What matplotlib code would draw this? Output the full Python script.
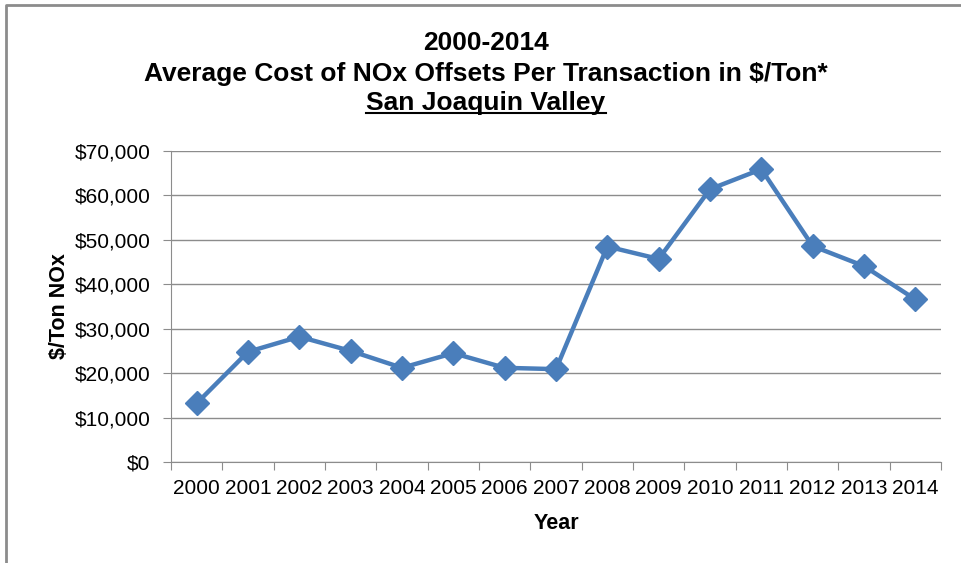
import matplotlib
matplotlib.use("Agg")
import matplotlib.pyplot as plt
from matplotlib.lines import Line2D
from matplotlib.ticker import FuncFormatter, MultipleLocator

plt.rcParams["font.family"] = ["Liberation Sans", "DejaVu Sans"]

years = ["2000", "2001", "2002", "2003", "2004", "2005", "2006", "2007",
         "2008", "2009", "2010", "2011", "2012", "2013", "2014"]
cost = [13200, 24800, 28200, 25000, 21200, 24500, 21200, 20900,
        48500, 45700, 61400, 65900, 48600, 44100, 36600]

W, H = 961, 563
fig = plt.figure(figsize=(W / 100, H / 100), dpi=100)
ax = fig.add_axes([171 / W, 1 - 462 / H, (941 - 171) / W, (462 - 151) / H])

x = list(range(len(years)))
ax.plot(x, cost, color="#4A7EBB", lw=3.2, marker="D", ms=12,
        markerfacecolor="#4A7EBB", markeredgecolor="#4A7EBB", zorder=3)

ax.set_xlim(-0.5, len(years) - 0.5)
ax.set_ylim(0, 70000)
ax.yaxis.set_major_locator(MultipleLocator(10000))
ax.yaxis.set_major_formatter(FuncFormatter(lambda v, p: f"${v:,.0f}"))
ax.grid(axis="y", color="#8C8C8C", lw=1)
ax.set_axisbelow(True)

# category ticks sit between the years, labels centred on the years
ax.set_xticks([i - 0.5 for i in x] + [len(years) - 0.5])
ax.set_xticklabels([])
ax.set_xticks(x, minor=True)
ax.set_xticklabels(years, minor=True)
ax.tick_params(axis="x", which="minor", length=0, pad=12, labelsize=15)
ax.tick_params(axis="x", which="major", length=6, color="#8C8C8C", direction="out")
ax.tick_params(axis="y", length=6, color="#8C8C8C", labelsize=15, pad=9)

for s in ["top", "right"]:
    ax.spines[s].set_visible(False)
for s in ["left", "bottom"]:
    ax.spines[s].set_color("#8C8C8C")

ax.set_xlabel("Year", fontsize=15.5, fontweight="bold", labelpad=11)
ax.set_ylabel("$/Ton NOx", fontsize=15.5, fontweight="bold", labelpad=3)

tx = 486 / W
fig.text(tx, 1 - 43 / H, "2000-2014", ha="center", va="center",
         fontsize=19, fontweight="bold")
fig.text(tx, 1 - 74 / H, "Average Cost of NOx Offsets Per Transaction in $/Ton*",
         ha="center", va="center", fontsize=19, fontweight="bold")
sub = fig.text(tx, 1 - 103 / H, "San Joaquin Valley", ha="center", va="center",
               fontsize=19, fontweight="bold")

# underline the last title line
fig.canvas.draw()
bb = sub.get_window_extent().transformed(fig.transFigure.inverted())
fig.add_artist(Line2D([bb.x0, bb.x1], [bb.y0 + 0.004, bb.y0 + 0.004],
                     color="black", lw=1.5, transform=fig.transFigure))

# outer chart frame (cropped at right and bottom)
fig.add_artist(Line2D([6 / W, 6 / W, 1], [0, 1 - 5 / H, 1 - 5 / H],
                      color="#8C8C8C", lw=2, transform=fig.transFigure))

fig.savefig("out.png", dpi=100)
